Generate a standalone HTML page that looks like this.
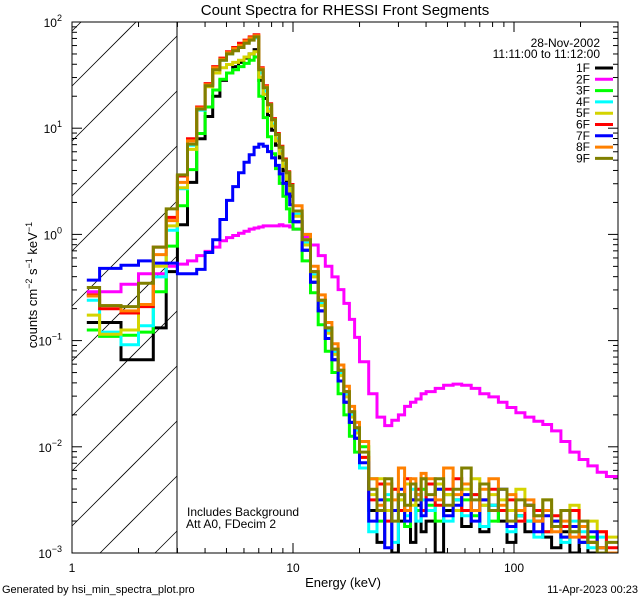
<!DOCTYPE html>
<html><head><meta charset="utf-8"><style>
html,body{margin:0;padding:0;background:#fff;width:640px;height:600px;overflow:hidden;}
svg{display:block;font-family:"Liberation Sans",sans-serif;overflow:hidden;}
</style></head><body>
<svg id="chart" width="640" height="600" viewBox="0 0 640 600" xmlns="http://www.w3.org/2000/svg">
<defs><clipPath id="plotclip"><rect x="72" y="22" width="546" height="531"/></clipPath></defs>
<rect width="640" height="600" fill="#fff"/>
<text x="345" y="15" font-size="15" text-anchor="middle">Count Spectra for RHESSI Front Segments</text>
<g id="hatch"></g>
<line x1="177" y1="22" x2="177" y2="553" stroke="#000" stroke-width="1"/>
<g id="series" clip-path="url(#plotclip)"></g>
<rect x="72" y="22" width="546" height="531" fill="none" stroke="#000" stroke-width="1"/>
<g id="axes"></g>
<text x="343" y="587" font-size="13" text-anchor="middle">Energy (keV)</text>
<text transform="translate(37,285) rotate(-90)" font-size="13" text-anchor="middle">counts cm<tspan dy="-5" font-size="9">−2</tspan><tspan dy="5"> s</tspan><tspan dy="-5" font-size="9">−1</tspan><tspan dy="5"> keV</tspan><tspan dy="-5" font-size="9">−1</tspan></text>
<text x="600" y="47" font-size="12" text-anchor="end">28-Nov-2002</text>
<text x="600" y="58" font-size="12" text-anchor="end">11:11:00 to 11:12:00</text>
<g id="legend"></g>
<text x="187" y="516" font-size="12">Includes Background</text>
<text x="186" y="528" font-size="12">Att A0, FDecim 2</text>
<text x="2" y="593" font-size="11">Generated by hsi_min_spectra_plot.pro</text>
<text x="638" y="593" font-size="11" text-anchor="end">11-Apr-2023 00:23</text>
</svg>
<script>
const edges = [1.167,1.333,1.667,2,2.333,2.667,3,3.333,3.667,4,4.333,4.667,5,5.333,5.667,6,6.333,6.667,7,7.333,7.667,8,8.333,8.667,9,9.333,9.667,10,11,12,13,14,15,16,17,18,19,20,22,24,26,28,30,32,34,36,38,40,44,48,53,58,64,70,77,85,93,102,112,123,135,148,163,179,197,216,238,262,296];
const segNames = ["1F","2F","3F","4F","5F","6F","7F","8F","9F"];
const segColors = ["#000000","#ff00ff","#00ff00","#00ffff","#d4d400","#ff0000","#0000ff","#ff8000","#808000"];
const xTickValues = [1,10,100];
const xTickLabels = ["1","10","100"];
const yTickExps = [-3,-2,-1,0,1,2];
// log10 counts per bin
const log1F = [-0.83,-0.83,-1.18,-1.18,-0.88,-0.35, 0.09,0.49,0.90,1.11,1.30,1.45,1.52,1.58,1.62,1.66,1.70,1.74,1.45,1.28,1.12,0.98,0.84,0.72,0.60,0.48,0.36, 0.12,-0.15,-0.45,-0.72,-0.98,-1.18,-1.38,-1.58,-1.77,-1.92, -2.2,-2.6,-2.9,-2.5,-3.0,-2.7,-2.6,-2.9,-2.55,-2.8, -2.7,-3.0,-2.6,-2.5,-2.75,-2.6,-2.8,-2.55,-2.7,-2.9,-2.65,-2.8,-2.7,-2.85,-2.95,-2.8,-3.0,-2.9,-3.0,-3.0,-3.0];
const log2F = [-0.54,-0.54,-0.47,-0.37,-0.37,-0.30, -0.28,-0.25,-0.20,-0.16,-0.12,-0.06,-0.03,-0.01,0.01,0.03,0.05,0.06,0.07,0.08,0.08,0.08,0.08,0.09,0.08,0.08,0.07, 0.05,-0.02,-0.10,-0.20,-0.30,-0.40,-0.52,-0.65,-0.80,-0.97, -1.2,-1.5,-1.72,-1.8,-1.75,-1.7,-1.62,-1.58,-1.55,-1.5, -1.48,-1.45,-1.42,-1.41,-1.42,-1.45,-1.5,-1.53,-1.58,-1.63,-1.68,-1.72,-1.76,-1.79,-1.85,-1.95,-2.05,-2.12,-2.18,-2.24,-2.28];
const log3F = [-0.9,-0.96,-0.95,-0.92,-0.54,-0.11, 0.27,0.61,0.95,1.20,1.36,1.46,1.52,1.55,1.58,1.61,1.64,1.67,1.30,1.10,0.92,0.76,0.62,0.48,0.36,0.24,0.12, 0.05,-0.25,-0.55,-0.85,-1.1,-1.3,-1.5,-1.7,-1.9,-2.05, -2.0,-2.3,-2.7,-2.5,-2.6,-2.45,-2.75,-2.5,-2.6,-2.4, -2.55,-2.7,-2.45,-2.6,-2.5,-2.65,-2.55,-2.7,-2.6,-2.75,-2.65,-2.7,-2.6,-2.8,-2.7,-2.85,-2.8,-2.9,-2.85,-2.95,-3.0];
const log4F = [-0.62,-0.92,-1.04,-0.86,-0.40,0.04, 0.43,0.84,1.17,1.40,1.56,1.64,1.70,1.74,1.77,1.81,1.84,1.85,1.52,1.35,1.18,1.04,0.90,0.78,0.66,0.54,0.42, 0.19,-0.08,-0.38,-0.65,-0.91,-1.11,-1.31,-1.51,-1.70,-1.85, -2.2,-2.8,-2.6,-2.45,-2.9,-2.5,-2.65,-2.4,-2.7,-2.5, -2.6,-2.4,-2.7,-2.5,-2.65,-2.45,-2.75,-2.55,-2.6,-2.8,-2.65,-2.7,-2.85,-2.6,-2.75,-2.9,-2.7,-2.8,-2.95,-2.85,-3.0];
const log5F = [-0.76,-0.94,-0.90,-0.66,-0.30,0.08, 0.44,0.80,1.20,1.39,1.52,1.57,1.60,1.62,1.64,1.67,1.70,1.72,1.48,1.32,1.16,1.02,0.88,0.76,0.64,0.52,0.40, 0.17,-0.10,-0.40,-0.67,-0.93,-1.13,-1.33,-1.53,-1.72,-1.87, -2.1,-2.45,-2.3,-2.6,-2.4,-2.5,-2.35,-2.55,-2.4,-2.3, -2.5,-2.35,-2.45,-2.6,-2.4,-2.3,-2.55,-2.45,-2.5,-2.6,-2.4,-2.55,-2.65,-2.5,-2.7,-2.6,-2.55,-2.75,-2.7,-2.8,-2.85];
const log6F = [-0.57,-0.70,-0.74,-0.68,-0.12,0.16, 0.55,0.90,1.20,1.42,1.58,1.66,1.72,1.76,1.80,1.83,1.86,1.88,1.57,1.40,1.23,1.09,0.95,0.83,0.71,0.59,0.47, 0.22,-0.05,-0.35,-0.62,-0.88,-1.08,-1.28,-1.48,-1.67,-1.82, -2.1,-2.5,-2.35,-2.7,-2.4,-2.6,-2.3,-2.5,-2.4,-2.6, -2.35,-2.55,-2.4,-2.3,-2.6,-2.45,-2.5,-2.4,-2.6,-2.5,-2.7,-2.55,-2.6,-2.8,-2.65,-2.75,-2.6,-2.85,-2.9,-2.8,-2.95];
const log7F = [-0.43,-0.32,-0.29,-0.25,-0.27,-0.27, -0.37,-0.37,-0.33,-0.17,-0.05,0.14,0.32,0.45,0.58,0.68,0.75,0.82,0.85,0.83,0.78,0.72,0.65,0.57,0.48,0.38,0.28, 0.12,-0.15,-0.45,-0.72,-0.98,-1.18,-1.38,-1.58,-1.77,-1.92, -2.15,-2.7,-2.5,-2.95,-2.6,-2.4,-2.7,-2.5,-2.45,-2.65, -2.5,-2.4,-2.65,-2.55,-2.45,-2.7,-2.5,-2.6,-2.4,-2.75,-2.6,-2.55,-2.8,-2.65,-2.7,-2.85,-2.75,-2.9,-2.8,-2.95,-3.0];
const log8F = [-0.58,-0.67,-0.72,-0.66,-0.19,0.13, 0.49,0.88,1.19,1.41,1.57,1.65,1.71,1.75,1.78,1.82,1.85,1.87,1.56,1.39,1.22,1.08,0.94,0.82,0.70,0.58,0.46, 0.27,0.0,-0.30,-0.57,-0.83,-1.03,-1.23,-1.43,-1.62,-1.77, -1.95,-2.3,-2.55,-2.35,-2.5,-2.2,-2.6,-2.3,-2.45,-2.25, -2.3,-2.5,-2.2,-2.45,-2.35,-2.6,-2.4,-2.3,-2.55,-2.45,-2.6,-2.5,-2.7,-2.6,-2.8,-2.7,-2.85,-2.75,-2.9,-2.95,-3.0];
const log9F = [-0.50,-0.67,-0.68,-0.46,-0.12,0.24, 0.56,0.85,1.18,1.40,1.55,1.64,1.70,1.73,1.76,1.80,1.83,1.86,1.55,1.38,1.22,1.08,0.94,0.82,0.70,0.58,0.46, 0.22,-0.05,-0.35,-0.62,-0.88,-1.08,-1.28,-1.48,-1.67,-1.82, -2.05,-2.4,-2.6,-2.3,-2.7,-2.45,-2.55,-2.35,-2.5,-2.3, -2.45,-2.3,-2.55,-2.4,-2.2,-2.5,-2.35,-2.6,-2.4,-2.7,-2.5,-2.55,-2.65,-2.5,-2.75,-2.6,-2.8,-2.7,-2.9,-3.0,-2.9];
const seriesData = [log1F,log2F,log3F,log4F,log5F,log6F,log7F,log8F,log9F];

const NS = "http://www.w3.org/2000/svg";
const X0 = 72, X1 = 618, Y0 = 22, Y1 = 553;
const xDec = 221, yMinExp = -3, yMaxExp = 2;
function xs(e){ return X0 + xDec*Math.log10(e); }
function ys(l){ return Y1 - (l - yMinExp)*(Y1-Y0)/(yMaxExp-yMinExp); }
function mk(tag, attrs, parent){ const el=document.createElementNS(NS,tag); for(const k in attrs) el.setAttribute(k,attrs[k]); parent.appendChild(el); return el; }

// hatch lines computed within box x 72..177, y 22..553 (y = y0 - (x-72))
const hatch = document.getElementById('hatch');
const HX1 = 177;
for (let i=-2;i<12;i++){
  const y0 = 86 + i*55;
  let xa = 72, ya = y0;
  if (ya > Y1){ xa = 72 + (ya - Y1); ya = Y1; }
  let xb = HX1, yb = y0 - (HX1-72);
  if (yb < Y0){ xb = 72 + (y0 - Y0); yb = Y0; }
  if (xa >= xb) continue;
  const ln = mk('line',{x1:xa,y1:ya,x2:xb,y2:yb,stroke:'#000','stroke-width':0.8},hatch);
  
  
}

const sg = document.getElementById('series');
seriesData.forEach((vals,s)=>{
  let d='';
  for(let i=0;i<vals.length;i++){
    const xa=xs(edges[i]).toFixed(1), xb=xs(edges[i+1]).toFixed(1), y=ys(Math.max(vals[i],-3.05)).toFixed(1);
    d += (i===0?'M':'L')+xa+','+y+'L'+xb+','+y;
  }
  const p = mk('path',{d:d,fill:'none',stroke:segColors[s],'stroke-width':3,'stroke-linejoin':'miter'},sg);
  
  
});

const ax = document.getElementById('axes');
for(let dcd=0; dcd<3; dcd++){
  for(let m=1;m<10;m++){
    const v=Math.pow(10,dcd)*m; const x=xs(v);
    if(x<X0-0.5||x>X1) continue;
    const len = m===1?10:5;
    const t1=mk('line',{x1:x,y1:Y1,x2:x,y2:Y1-len,stroke:'#000'},ax);
    
    
    const t2=mk('line',{x1:x,y1:Y0,x2:x,y2:Y0+len,stroke:'#000'},ax);
    
    
  }
}
xTickValues.forEach((v,i)=>{
  const t=mk('text',{x:xs(v),y:572,'font-size':12,'text-anchor':'middle'},ax);
  t.textContent=xTickLabels[i];
  
  
});
for(let e=yMinExp;e<yMaxExp;e++){
  for(let m=1;m<10;m++){
    const y=ys(e+Math.log10(m)); const len=m===1?10:5;
    const a=mk('line',{x1:X0,y1:y,x2:X0+len,y2:y,stroke:'#000'},ax);
    
    
    const b=mk('line',{x1:X1,y1:y,x2:X1-len,y2:y,stroke:'#000'},ax);
    
    
  }
}
yTickExps.forEach(e=>{
  const t=mk('text',{x:62,y:ys(e)+5,'font-size':12,'text-anchor':'end'},ax);
  t.innerHTML='10<tspan dy="-6" font-size="9">'+(e<0?'−'+(-e):e)+'</tspan>';
  
  
});

const lg=document.getElementById('legend');
segNames.forEach((n,i)=>{
  const y=68+i*11.3;
  const t=mk('text',{x:590,y:y+4,'font-size':12,'text-anchor':'end'},lg);
  t.textContent=n;
  
  
  const l=mk('line',{x1:595,y1:y,x2:613,y2:y,stroke:segColors[i],'stroke-width':3},lg);
  
  
});
</script>
</body></html>
